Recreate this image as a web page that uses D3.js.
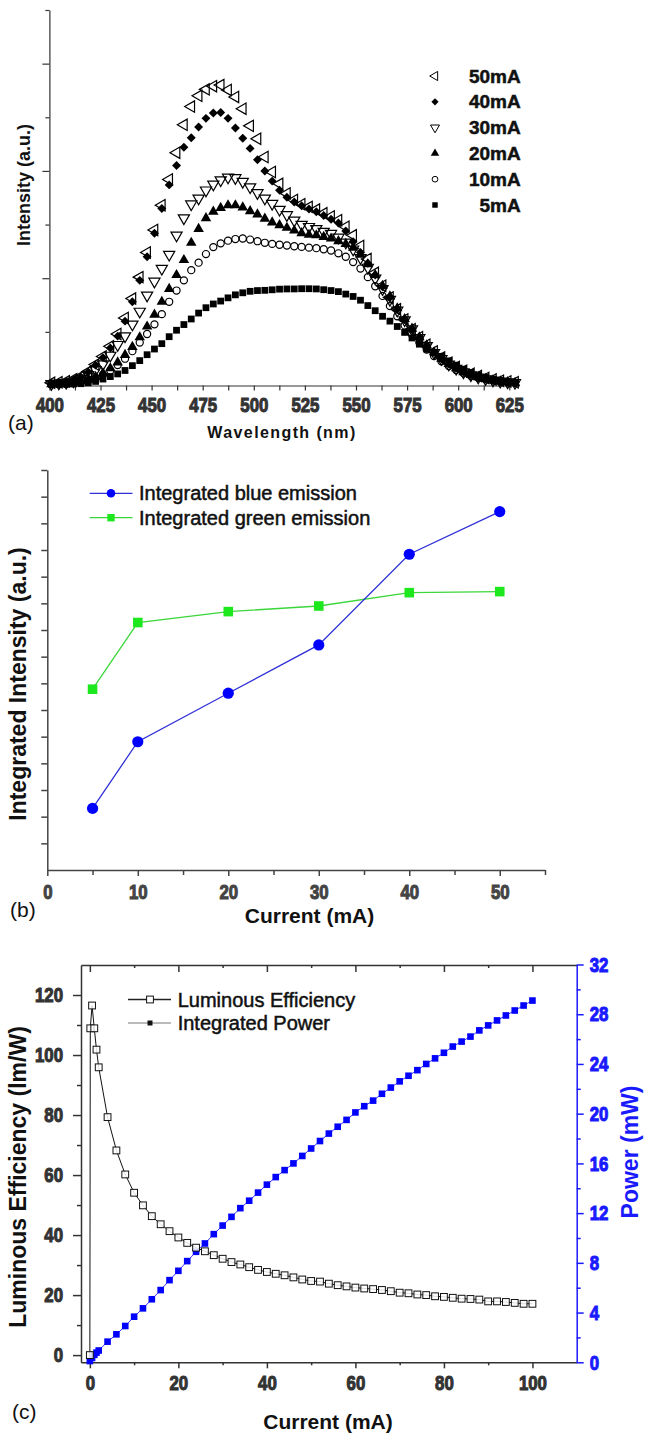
<!DOCTYPE html>
<html>
<head>
<meta charset="utf-8">
<script src="https://cdn.jsdelivr.net/npm/d3@7"></script>
<style>
    body { margin: 0; background: #fff; }
    svg text { font-family: "Liberation Sans", Arial, sans-serif; fill: #111; }
    svg text.tl { font-family: "Liberation Sans", Arial, sans-serif; font-weight: bold; font-size: 21px; }
    svg text.title { font-weight: bold; }
</style>
</head>
<body>
<svg id="chart" width="645" height="1435"></svg>
<script>
// ---- (a) emission spectra ----
const wavelength = [401.0, 404.6, 408.2, 411.8, 415.4, 419.0, 422.6, 426.2, 429.8, 433.4, 437.0, 440.6, 444.2, 447.8, 451.4, 455.0,
    458.6, 462.2, 465.8, 469.4, 473.0, 476.6, 480.2, 483.8, 487.4, 491.0, 494.6, 498.2, 501.8, 505.4, 509.0, 512.6,
    516.2, 519.8, 523.4, 527.0, 530.6, 534.2, 537.8, 541.4, 545.0, 548.6, 552.2, 555.8, 559.4, 563.0, 566.6, 570.2,
    573.8, 577.4, 581.0, 584.6, 588.2, 591.8, 595.4, 599.0, 602.6, 606.2, 609.8, 613.4, 617.0, 620.6, 624.2, 627.8];
const i5mA = [0.01, 0.01, 0.012, 0.014, 0.017, 0.025, 0.038, 0.06, 0.083, 0.108, 0.14, 0.185, 0.232, 0.287, 0.34, 0.39,
    0.455, 0.515, 0.568, 0.62, 0.675, 0.725, 0.76, 0.787, 0.817, 0.845, 0.864, 0.878, 0.885, 0.887, 0.892, 0.898,
    0.9, 0.9, 0.902, 0.902, 0.9, 0.893, 0.885, 0.875, 0.852, 0.83, 0.795, 0.745, 0.697, 0.645, 0.6, 0.55,
    0.495, 0.443, 0.385, 0.34, 0.305, 0.272, 0.23, 0.19, 0.152, 0.122, 0.096, 0.075, 0.06, 0.047, 0.037, 0.03];
const i10mA = [0.01, 0.012, 0.016, 0.022, 0.03, 0.045, 0.07, 0.1, 0.14, 0.19, 0.25, 0.32, 0.4, 0.48, 0.57, 0.665,
    0.78, 0.885, 0.98, 1.075, 1.145, 1.225, 1.29, 1.325, 1.35, 1.365, 1.37, 1.36, 1.345, 1.33, 1.32, 1.312,
    1.305, 1.298, 1.292, 1.285, 1.28, 1.27, 1.258, 1.232, 1.2, 1.15, 1.09, 1.01, 0.925, 0.835, 0.74, 0.645,
    0.56, 0.475, 0.4, 0.335, 0.275, 0.225, 0.182, 0.145, 0.115, 0.09, 0.072, 0.057, 0.046, 0.037, 0.03, 0.025];
const i20mA = [0.012, 0.015, 0.02, 0.027, 0.037, 0.055, 0.08, 0.115, 0.16, 0.215, 0.285, 0.36, 0.45, 0.55, 0.66, 0.78,
    0.9, 1.03, 1.17, 1.33, 1.46, 1.56, 1.62, 1.655, 1.68, 1.68, 1.66, 1.625, 1.595, 1.555, 1.52, 1.495,
    1.47, 1.445, 1.42, 1.405, 1.4, 1.385, 1.37, 1.345, 1.32, 1.285, 1.22, 1.13, 1.03, 0.93, 0.83, 0.72,
    0.62, 0.53, 0.45, 0.375, 0.31, 0.25, 0.2, 0.16, 0.125, 0.098, 0.078, 0.062, 0.048, 0.038, 0.031, 0.026];
const i30mA = [0.015, 0.02, 0.028, 0.04, 0.065, 0.1, 0.145, 0.2, 0.28, 0.38, 0.46, 0.57, 0.69, 0.84, 0.97, 1.09,
    1.22, 1.4, 1.56, 1.69, 1.745, 1.82, 1.875, 1.915, 1.94, 1.935, 1.9, 1.85, 1.795, 1.745, 1.695, 1.64,
    1.59, 1.54, 1.5, 1.48, 1.46, 1.435, 1.415, 1.38, 1.335, 1.27, 1.19, 1.1, 1.0, 0.9, 0.8, 0.7,
    0.61, 0.525, 0.445, 0.37, 0.305, 0.248, 0.198, 0.158, 0.124, 0.097, 0.077, 0.061, 0.048, 0.038, 0.031, 0.026];
const i40mA = [0.02, 0.025, 0.035, 0.055, 0.08, 0.125, 0.19, 0.26, 0.35, 0.46, 0.6, 0.78, 0.98, 1.2, 1.42, 1.65,
    1.87, 2.05, 2.22, 2.31, 2.41, 2.49, 2.54, 2.545, 2.49, 2.4, 2.305, 2.21, 2.105, 2.0, 1.905, 1.82,
    1.755, 1.71, 1.675, 1.645, 1.62, 1.585, 1.55, 1.515, 1.44, 1.34, 1.24, 1.14, 1.03, 0.92, 0.82, 0.71,
    0.615, 0.525, 0.445, 0.372, 0.308, 0.25, 0.2, 0.16, 0.127, 0.1, 0.079, 0.063, 0.05, 0.04, 0.033, 0.027];
const i50mA = [0.025, 0.03, 0.04, 0.058, 0.085, 0.13, 0.195, 0.27, 0.365, 0.48, 0.63, 0.81, 1.01, 1.24, 1.45, 1.68,
    1.92, 2.17, 2.43, 2.6, 2.7, 2.76, 2.79, 2.8, 2.755, 2.69, 2.58, 2.42, 2.3, 2.13, 1.99, 1.88,
    1.79, 1.73, 1.69, 1.665, 1.64, 1.605, 1.575, 1.54, 1.48, 1.4, 1.3, 1.18, 1.05, 0.93, 0.82, 0.71,
    0.615, 0.525, 0.45, 0.38, 0.318, 0.262, 0.212, 0.172, 0.138, 0.11, 0.088, 0.07, 0.056, 0.045, 0.037, 0.03];
const wlTicks = [400, 425, 450, 475, 500, 525, 550, 575, 600, 625];

// ---- (b) integrated intensity ----
const currentB = [5, 10, 20, 30, 40, 50];
const blueEmission = [2.31, 4.81, 6.63, 8.44, 11.84, 13.44];
const greenEmission = [6.78, 9.28, 9.69, 9.9, 10.4, 10.44];

// ---- (c) efficiency & power ----
const currentLE = [0, 0.1, 0.5, 1, 1.5, 2, 4, 6, 8, 10, 12, 14, 16, 18, 20, 22, 24, 26, 28, 30, 32, 34, 36, 38, 40,
    42, 44, 46, 48, 50, 52, 54, 56, 58, 60, 62, 64, 66, 68, 70, 72, 74, 76, 78, 80, 82, 84, 86, 88, 90, 92, 94, 96, 98, 100];
const efficiency = [0, 108.9, 116.5, 108.9, 101.8, 95.9, 79.3, 68.2, 60.2, 54.1, 49.9, 46.3, 43.6, 41.3, 39.2, 37.4, 35.8,
    34.6, 33.3, 32.1, 31.0, 30.2, 29.3, 28.4, 27.7, 27.1, 26.6, 25.9, 25.2, 24.7, 24.5, 23.8, 23.3, 22.9, 22.5, 22.2,
    22.0, 21.7, 21.3, 20.8, 20.6, 20.2, 20.0, 19.6, 19.4, 19.1, 18.8, 18.7, 18.5, 17.9, 17.9, 17.7, 17.4, 17.1, 17.1];
const currentP = [0, 0.5, 1, 1.5, 2, 4, 6, 8, 10, 12, 14, 16, 18, 20, 22, 24, 26, 28, 30, 32, 34, 36, 38, 40,
    42, 44, 46, 48, 50, 52, 54, 56, 58, 60, 62, 64, 66, 68, 70, 72, 74, 76, 78, 80, 82, 84, 86, 88, 90, 92, 94, 96, 98, 100];
const power = [0.1, 0.35, 0.6, 0.78, 0.95, 1.66, 2.25, 2.92, 3.67, 4.34, 5.07, 5.81, 6.61, 7.36, 8.14, 8.89, 9.56,
    10.31, 11.0, 11.7, 12.4, 13.0, 13.65, 14.29, 14.9, 15.46, 16.0, 16.6, 17.2, 17.8, 18.4, 18.95, 19.5, 20.1,
    20.6, 21.05, 21.6, 22.1, 22.6, 23.05, 23.5, 24.0, 24.45, 24.9, 25.4, 25.8, 26.2, 26.7, 27.1, 27.5, 27.9, 28.3, 28.7, 29.1];

const svg = d3.select("#chart");
svg.append("rect").attr("width", 645).attr("height", 1435).attr("fill", "#fff");

// narrow heavy tick labels: squeeze horizontally, thicken with a stroke
const squeeze = 0.8;
function styleAxis(g, color, width) {
    g.attr("font-family", null).attr("font-size", null);
    g.selectAll("path, line").attr("stroke", color).attr("stroke-width", width);
    g.selectAll("text")
        .attr("class", "tl")
        .style("fill", color)
        .style("stroke", color)
        .style("stroke-width", "1.1px")
        .each(function () {
            const t = d3.select(this);
            const x = +t.attr("x") || 0;
            t.attr("x", x / squeeze).attr("transform", `scale(${squeeze},1)`);
        });
}

function rotLabel(text, x, y, size, color) {
    svg.append("text")
        .attr("class", "title")
        .attr("transform", `translate(${x},${y}) rotate(-90)`)
        .attr("text-anchor", "middle")
        .attr("font-size", size)
        .style("fill", color || "#111")
        .text(text);
}

/* ================= panel (a) ================= */
const xA = d3.scaleLinear().domain([400, 630]).range([49.4, 519.5]);
const yA = d3.scaleLinear().domain([0, 3.5]).range([385.5, 10]);

const axA = svg.append("g").attr("transform", `translate(0,${yA(0)})`)
    .call(d3.axisBottom(xA).tickValues(wlTicks).tickSize(5).tickSizeOuter(0).tickPadding(7).tickFormat(d3.format("d")));
styleAxis(axA, "#333", 1.2);
const axAm = svg.append("g").attr("transform", `translate(0,${yA(0)})`)
    .call(d3.axisBottom(xA).tickValues(wlTicks.map(d => d + 12.5).filter(d => d < 630)).tickSize(5).tickFormat(""));
styleAxis(axAm, "#333", 1.2);
axAm.select(".domain").remove();

const ayA = svg.append("g").attr("transform", `translate(${xA(400)},0)`)
    .call(d3.axisLeft(yA).tickValues([1, 2, 3]).tickSize(7).tickSizeOuter(0).tickFormat(""));
styleAxis(ayA, "#333", 1.2);
const ayAm = svg.append("g").attr("transform", `translate(${xA(400)},0)`)
    .call(d3.axisLeft(yA).tickValues([0.5, 1.5, 2.5, 3.5]).tickSize(4).tickFormat(""));
styleAxis(ayAm, "#333", 1.2);
ayAm.select(".domain").remove();

const seriesA = [
    {name: "5mA", values: i5mA, type: d3.symbolSquare, size: 46, rot: 0, filled: true},
    {name: "10mA", values: i10mA, type: d3.symbolCircle, size: 40, rot: 0, filled: false},
    {name: "20mA", values: i20mA, type: d3.symbolTriangle, size: 48, rot: 0, filled: true},
    {name: "30mA", values: i30mA, type: d3.symbolTriangle, size: 54, rot: 180, filled: false},
    {name: "40mA", values: i40mA, type: d3.symbolSquare, size: 40, rot: 45, filled: true},
    {name: "50mA", values: i50mA, type: d3.symbolTriangle, size: 56, rot: -90, filled: false}
];

seriesA.forEach(s => {
    const path = d3.symbol().type(s.type).size(s.size)();
    svg.append("g").selectAll("path")
        .data(s.values)
        .join("path")
        .attr("d", path)
        .attr("transform", (d, i) => `translate(${xA(wavelength[i])},${yA(d)}) rotate(${s.rot})`)
        .attr("fill", s.filled ? "#000" : "none")
        .attr("stroke", "#000")
        .attr("stroke-width", s.filled ? 0 : 1.2);
});

// legend (a)
const legA = svg.append("g");
seriesA.slice().reverse().forEach((s, i) => {
    const y = 76 + i * 25.8;
    legA.append("path")
        .attr("d", d3.symbol().type(s.type).size(s.size * 0.65)())
        .attr("transform", `translate(435,${y}) rotate(${s.rot})`)
        .attr("fill", s.filled ? "#000" : "none")
        .attr("stroke", "#000")
        .attr("stroke-width", s.filled ? 0 : 1);
    legA.append("text")
        .attr("x", 520.7).attr("y", y + 6.5)
        .attr("text-anchor", "end")
        .attr("font-size", 19).attr("font-weight", "bold")
        .style("stroke", "#111").style("stroke-width", "0.5px")
        .text(s.name);
});

svg.append("text").attr("x", 8).attr("y", 430).attr("font-size", 21).text("(a)");
svg.append("text").attr("class", "title").attr("x", 282).attr("y", 438)
    .attr("text-anchor", "middle").attr("font-size", 16).attr("letter-spacing", 1.4)
    .text("Wavelength (nm)");
rotLabel("Intensity (a.u.)", 30, 185, 18);

/* ================= panel (b) ================= */
const xB = d3.scaleLinear().domain([0, 55]).range([47.3, 545]);
const yB = d3.scaleLinear().domain([0, 15]).range([870, 470]);

const axB = svg.append("g").attr("transform", `translate(0,${yB(0)})`)
    .call(d3.axisBottom(xB).tickValues([0, 10, 20, 30, 40, 50]).tickSize(6).tickSizeOuter(0).tickPadding(8));
styleAxis(axB, "#444", 1.5);
const axBm = svg.append("g").attr("transform", `translate(0,${yB(0)})`)
    .call(d3.axisBottom(xB).tickValues([5, 15, 25, 35, 45, 55]).tickSize(5).tickFormat(""));
styleAxis(axBm, "#444", 1.5);
axBm.select(".domain").remove();
const ayB = svg.append("g").attr("transform", `translate(${xB(0)},0)`)
    .call(d3.axisLeft(yB).tickValues(d3.range(1, 16)).tickSize(6).tickSizeOuter(0).tickFormat(""));
styleAxis(ayB, "#444", 1.5);

const lineB = d3.line().x((d, i) => xB(currentB[i])).y(d => yB(d));
svg.append("path").attr("d", lineB(greenEmission)).attr("fill", "none")
    .attr("stroke", "#3ad63a").attr("stroke-width", 1.3);
svg.append("path").attr("d", lineB(blueEmission)).attr("fill", "none")
    .attr("stroke", "#3030d8").attr("stroke-width", 1.3);
svg.append("g").selectAll("rect")
    .data(greenEmission)
    .join("rect")
    .attr("x", (d, i) => xB(currentB[i]) - 4.8)
    .attr("y", d => yB(d) - 4.8)
    .attr("width", 9.6).attr("height", 9.6)
    .attr("fill", "#1de81d");
svg.append("g").selectAll("circle")
    .data(blueEmission)
    .join("circle")
    .attr("cx", (d, i) => xB(currentB[i]))
    .attr("cy", d => yB(d))
    .attr("r", 5.6)
    .attr("fill", "#0000ff");

// legend (b)
const legB = svg.append("g");
[["Integrated blue emission", "#3030d8", 493.3, "circle"], ["Integrated green emission", "#3ad63a", 517.7, "rect"]]
    .forEach(([label, color, y, shape]) => {
        legB.append("line").attr("x1", 89.7).attr("x2", 132.5).attr("y1", y).attr("y2", y)
            .attr("stroke", color).attr("stroke-width", 1.3);
        if (shape === "circle") {
            legB.append("circle").attr("cx", 111).attr("cy", y).attr("r", 4.3).attr("fill", "#0000ff");
        } else {
            legB.append("rect").attr("x", 107.3).attr("y", y - 3.7).attr("width", 7.4).attr("height", 7.4).attr("fill", "#1de81d");
        }
        legB.append("text").attr("x", 139).attr("y", y + 7).attr("font-size", 20)
            .style("stroke", "#111").style("stroke-width", "0.5px").text(label);
    });

svg.append("text").attr("x", 10).attr("y", 917).attr("font-size", 21).text("(b)");
svg.append("text").attr("class", "title").attr("x", 309.5).attr("y", 923)
    .attr("text-anchor", "middle").attr("font-size", 21).text("Current (mA)");
rotLabel("Integrated Intensity (a.u.)", 26, 684, 23);

/* ================= panel (c) ================= */
const xC = d3.scaleLinear().domain([-2, 110]).range([81, 576.7]);
const yL = d3.scaleLinear().domain([-2.4, 130]).range([1362.3, 965]);
const yR = d3.scaleLinear().domain([0, 32]).range([1362.3, 964.5]);

// frame top
const topC = svg.append("g").attr("transform", `translate(0,965)`)
    .call(d3.axisTop(xC).tickValues([0, 20, 40, 60, 80, 100]).tickSize(-7).tickSizeOuter(0).tickFormat(""));
styleAxis(topC, "#333", 1.5);
const topCm = svg.append("g").attr("transform", `translate(0,965)`)
    .call(d3.axisTop(xC).tickValues([10, 30, 50, 70, 90]).tickSize(-3).tickFormat(""));
styleAxis(topCm, "#333", 1.5);
topCm.select(".domain").remove();

const axC = svg.append("g").attr("transform", `translate(0,${yL(-2.4)})`)
    .call(d3.axisBottom(xC).tickValues([0, 20, 40, 60, 80, 100]).tickSize(6).tickSizeOuter(0).tickPadding(7));
styleAxis(axC, "#333", 1.5);
const axCm = svg.append("g").attr("transform", `translate(0,${yL(-2.4)})`)
    .call(d3.axisBottom(xC).tickValues([10, 30, 50, 70, 90]).tickSize(3).tickFormat(""));
styleAxis(axCm, "#333", 1.5);
axCm.select(".domain").remove();

const ayL = svg.append("g").attr("transform", `translate(${xC(-2)},0)`)
    .call(d3.axisLeft(yL).tickValues([0, 20, 40, 60, 80, 100, 120]).tickSize(8).tickSizeOuter(0).tickPadding(10));
styleAxis(ayL, "#333", 1.5);
const ayLm = svg.append("g").attr("transform", `translate(${xC(-2)},0)`)
    .call(d3.axisLeft(yL).tickValues([10, 30, 50, 70, 90, 110]).tickSize(4).tickFormat(""));
styleAxis(ayLm, "#333", 1.5);
ayLm.select(".domain").remove();

const ayR = svg.append("g").attr("transform", `translate(${xC(110)},0)`)
    .call(d3.axisRight(yR).tickValues(d3.range(0, 33, 4)).tickSize(7).tickSizeOuter(0).tickPadding(6));
styleAxis(ayR, "#1a1aff", 1.5);
const ayRm = svg.append("g").attr("transform", `translate(${xC(110)},0)`)
    .call(d3.axisRight(yR).tickValues(d3.range(2, 31, 4)).tickSize(4).tickFormat(""));
styleAxis(ayRm, "#1a1aff", 1.5);
ayRm.select(".domain").remove();

// power (blue squares)
svg.append("path")
    .attr("d", d3.line().x((d, i) => xC(currentP[i])).y(d => yR(d))(power))
    .attr("fill", "none").attr("stroke", "#0000ff").attr("stroke-width", 0.8);
svg.append("g").selectAll("rect")
    .data(power)
    .join("rect")
    .attr("x", (d, i) => xC(currentP[i]) - 3.3)
    .attr("y", d => yR(d) - 3.3)
    .attr("width", 6.6).attr("height", 6.6)
    .attr("fill", "#0000ff");

// luminous efficiency (open squares)
svg.append("path")
    .attr("d", d3.line().x((d, i) => xC(currentLE[i])).y(d => yL(d))(efficiency))
    .attr("fill", "none").attr("stroke", "#111").attr("stroke-width", 1);
svg.append("g").selectAll("rect")
    .data(efficiency)
    .join("rect")
    .attr("x", (d, i) => xC(currentLE[i]) - 3.4)
    .attr("y", d => yL(d) - 3.4)
    .attr("width", 6.8).attr("height", 6.8)
    .attr("fill", "#fff").attr("fill-opacity", 0.85)
    .attr("stroke", "#111").attr("stroke-width", 1);

// legend (c)
const legC = svg.append("g");
legC.append("line").attr("x1", 128).attr("x2", 171).attr("y1", 999.5).attr("y2", 999.5).attr("stroke", "#222").attr("stroke-width", 1.3);
legC.append("rect").attr("x", 146.6).attr("y", 996.1).attr("width", 6.8).attr("height", 6.8)
    .attr("fill", "#fff").attr("stroke", "#111").attr("stroke-width", 1);
legC.append("text").attr("x", 177.7).attr("y", 1006.5).attr("font-size", 20)
    .style("stroke", "#111").style("stroke-width", "0.5px").text("Luminous Efficiency");
legC.append("line").attr("x1", 128).attr("x2", 171).attr("y1", 1023).attr("y2", 1023).attr("stroke", "#777").attr("stroke-width", 1.1);
legC.append("rect").attr("x", 147.5).attr("y", 1020.5).attr("width", 5).attr("height", 5).attr("fill", "#111");
legC.append("text").attr("x", 177.7).attr("y", 1030).attr("font-size", 20)
    .style("stroke", "#111").style("stroke-width", "0.5px").text("Integrated Power");

svg.append("text").attr("x", 12).attr("y", 1419).attr("font-size", 21).text("(c)");
svg.append("text").attr("class", "title").attr("x", 328).attr("y", 1429)
    .attr("text-anchor", "middle").attr("font-size", 21).text("Current (mA)");
rotLabel("Luminous Efficiency (lm/W)", 26, 1177, 23);
rotLabel("Power (mW)", 638, 1152, 23, "#1a1aff");
</script>
</body>
</html>
